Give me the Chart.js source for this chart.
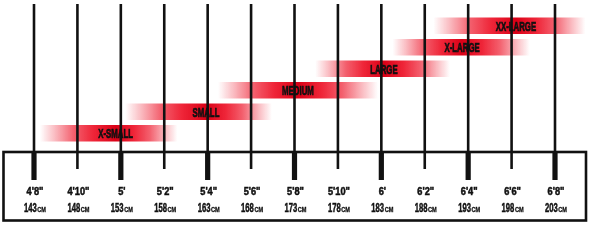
<!DOCTYPE html>
<html lang="en">
  <head>
    <meta charset="UTF-8" />
    <script src="https://cdn.jsdelivr.net/npm/chart.js@4.4.0/dist/chart.umd.min.js"></script>
    <title>Size chart</title>
    <style>
      body {
        margin: 0;
        padding: 0;
        background: #fff;
      }

      .container {
        width: 606px;
        height: 240px;
      }
    </style>
  </head>
  <body>
    <div class="container">
      <canvas id="sizeChart"></canvas>
    </div>
    <script>
      const sizes = ['X-SMALL', 'SMALL', 'MEDIUM', 'LARGE', 'X-LARGE', 'XX-LARGE']
      const sizeFrom = [143.7, 153.5, 164.2, 175.4, 184.3, 189.0]
      const sizeTo = [159.5, 170.4, 182.6, 190.9, 200.1, 206.5]
      const sizeMid = [152.4, 162.8, 173.4, 183.3, 192.3, 198.5]

      const tickCm = [143, 148, 153, 158, 163, 168, 173, 178, 183, 188, 193, 198, 203]
      const tickFeet = ["4'8\"", "4'10\"", "5'", "5'2\"", "5'4\"", "5'6\"", "5'8\"", "5'10\"", "6'", "6'2\"", "6'4\"", "6'6\"", "6'8\""]

      const FONT = "'Liberation Sans', Arial, sans-serif"
      const INK = '#111111'

      const barFill = (context) => {
        const chart = context.chart
        if (!chart.chartArea || context.type !== 'data') return 'rgba(235, 20, 40, 0.8)'
        const x = chart.scales.x
        const i = context.dataIndex
        const x0 = x.getPixelForValue(sizeFrom[i])
        const x1 = x.getPixelForValue(sizeTo[i])
        const p = (x.getPixelForValue(sizeMid[i]) - x0) / (x1 - x0)
        const g = chart.ctx.createLinearGradient(x0, 0, x1, 0)
        const profile = [[1, 0], [0.8, 0.3], [0.55, 0.7], [0.3, 0.95]]
        profile.forEach(([d, a]) => g.addColorStop(p - d * p, `rgba(238, 26, 46, ${a})`))
        g.addColorStop(p, 'rgba(218, 0, 22, 1)')
        profile.slice().reverse().forEach(([d, a]) => g.addColorStop(p + d * (1 - p), `rgba(238, 26, 46, ${a})`))
        return g
      }

      // condensed, slightly heavier text
      const squeezeText = (ctx, text, x, y, sx, weight) => {
        ctx.save()
        ctx.translate(x, y)
        ctx.scale(sx, 1)
        ctx.fillText(text, 0, 0)
        if (weight) {
          ctx.lineWidth = weight
          ctx.strokeText(text, 0, 0)
        }
        ctx.restore()
      }

      const sizeChartPlugin = {
        id: 'sizeChartPlugin',
        afterDatasetsDraw(chart) {
          const { ctx, scales } = chart
          const x = scales.x
          const y = scales.y
          const boxTop = 152
          ctx.save()
          ctx.strokeStyle = INK
          ctx.fillStyle = INK

          // vertical lines + ticks in the box
          tickCm.forEach((v, i) => {
            const px = x.getPixelForValue(v)
            const major = i % 2 === 0
            ctx.lineWidth = 2.6
            ctx.beginPath()
            ctx.moveTo(px, 4)
            ctx.lineTo(px, major ? boxTop : 169)
            ctx.stroke()
            if (major) ctx.fillRect(px - 2.6, boxTop, 5.2, 28)
          })

          // box
          ctx.lineWidth = 2.6
          ctx.strokeRect(3.5, boxTop, 582.5, 68.5)

          // tick labels
          ctx.textBaseline = 'alphabetic'
          tickCm.forEach((v, i) => {
            const px = x.getPixelForValue(v) + 1
            ctx.textAlign = 'center'
            ctx.font = `bold 10px ${FONT}`
            squeezeText(ctx, tickFeet[i], px, 194.5, 0.92, 0.5)

            ctx.textAlign = 'left'
            ctx.font = `bold 12px ${FONT}`
            const num = String(v)
            const wNum = ctx.measureText(num).width * 0.64
            ctx.font = `bold 7px ${FONT}`
            const wCm = ctx.measureText('CM').width * 0.8
            const start = px - (wNum + wCm + 0.5) / 2
            ctx.font = `bold 12px ${FONT}`
            squeezeText(ctx, num, start, 212, 0.64, 0.5)
            ctx.font = `bold 7px ${FONT}`
            squeezeText(ctx, 'CM', start + wNum + 0.5, 212, 0.8, 0.3)
          })

          // size names
          ctx.textAlign = 'center'
          ctx.font = `bold 13.5px ${FONT}`
          sizes.forEach((name, i) => {
            const px = x.getPixelForValue(sizeMid[i])
            const py = y.getPixelForValue(i)
            squeezeText(ctx, name, px, py + 5, 0.58, 0.7)
          })
          ctx.restore()
        },
      }

      new Chart(document.getElementById('sizeChart'), {
        type: 'bar',
        data: {
          labels: sizes,
          datasets: [
            {
              data: sizes.map((_, i) => [sizeFrom[i], sizeTo[i]]),
              backgroundColor: barFill,
              borderWidth: 0,
              borderSkipped: false,
              barThickness: 16,
            },
          ],
        },
        options: {
          indexAxis: 'y',
          responsive: true,
          maintainAspectRatio: false,
          animation: false,
          layout: {
            padding: { left: 3, right: 20, top: 15, bottom: 96 },
          },
          plugins: {
            legend: { display: false },
            tooltip: { enabled: false },
          },
          scales: {
            x: {
              type: 'linear',
              min: 139.43,
              max: 206.57,
              display: false,
            },
            y: {
              type: 'category',
              reverse: true,
              display: false,
            },
          },
        },
        plugins: [sizeChartPlugin],
      })
    </script>
  </body>
</html>
